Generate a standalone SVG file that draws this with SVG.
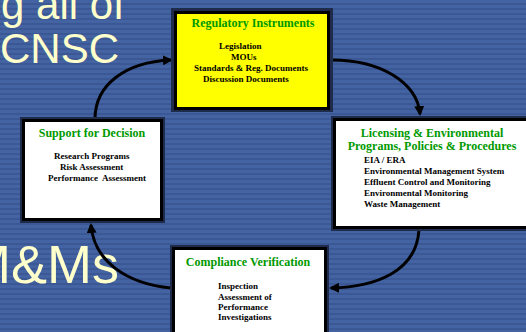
<svg xmlns="http://www.w3.org/2000/svg" width="526" height="332" viewBox="0 0 526 332">
  <defs>
    <pattern id="stripes" width="8" height="5" patternUnits="userSpaceOnUse">
      <rect width="8" height="5" fill="#4463a2"/>
      <rect y="3" width="8" height="2" fill="#3b5895"/>
    </pattern>
    <marker id="head" markerUnits="userSpaceOnUse" markerWidth="11" markerHeight="11" refX="8" refY="5" orient="auto">
      <path d="M0,0 L10,5 L0,10 Z" fill="#000"/>
    </marker>
    <style>
      .slide { font-family: "Liberation Sans", Arial, sans-serif; fill: #ffffcc; }
      .frame { fill: #1f2b4a; }
      .box { stroke: #000; stroke-width: 3; }
      .title { font-family: "Liberation Serif", "Times New Roman", serif; font-weight: bold; font-size: 12px; fill: #009900; }
      .item { font-family: "Liberation Serif", "Times New Roman", serif; font-weight: bold; font-size: 9px; fill: #000; white-space: pre; }
      .arrow { fill: none; stroke: #000; stroke-width: 3; marker-end: url(#head); }
    </style>
  </defs>

  <!-- slide background -->
  <rect width="526" height="332" fill="url(#stripes)"/>

  <!-- slide title fragments behind the cycle -->
  <text class="slide" x="1" y="19" font-size="42">g all of</text>
  <text class="slide" x="0" y="63" font-size="42">CNSC</text>
  <text class="slide" x="-34" y="283" font-size="54">M&amp;Ms</text>

  <!-- connectors -->
  <g id="connectors">
    <path class="arrow" d="M95,119 C95,85 125,62 171,60"/>
    <path class="arrow" d="M332,60 C380,60 417,82 420,114"/>
    <path class="arrow" d="M419,229 C417,272 375,287 331,288"/>
    <path class="arrow" d="M171,288 C128,284 94,262 91,225"/>
  </g>

  <!-- Regulatory Instruments -->
  <g id="regulatory">
    <rect class="frame" x="171" y="8" width="162" height="104"/>
    <rect class="box" x="175.5" y="12.5" width="153" height="96" fill="#ffff00"/>
    <text class="title" x="253" y="27" text-anchor="middle">Regulatory Instruments</text>
    <text class="item" x="219" y="49">Legislation</text>
    <text class="item" x="231" y="60">MOUs</text>
    <text class="item" x="194" y="71">Standards &amp; Reg. Documents</text>
    <text class="item" x="203" y="82">Discussion Documents</text>
  </g>

  <!-- Licensing & Environmental Programs -->
  <g id="licensing">
    <rect class="frame" x="331" y="116" width="200" height="115"/>
    <rect class="box" x="334.5" y="119.5" width="200" height="108" fill="#fff"/>
    <text class="title" x="432" y="137" text-anchor="middle">Licensing &amp; Environmental</text>
    <text class="title" x="432" y="150" text-anchor="middle">Programs, Policies &amp; Procedures</text>
    <text class="item" x="364" y="163">EIA / ERA</text>
    <text class="item" x="364" y="174">Environmental Management System</text>
    <text class="item" x="364" y="185">Effluent Control and Monitoring</text>
    <text class="item" x="364" y="196">Environmental Monitoring</text>
    <text class="item" x="364" y="207">Waste Management</text>
  </g>

  <!-- Support for Decision -->
  <g id="support">
    <rect class="frame" x="20" y="117" width="145" height="106"/>
    <rect class="box" x="23.5" y="120.5" width="138" height="99" fill="#fff"/>
    <text class="title" x="92" y="137" text-anchor="middle">Support for Decision</text>
    <text class="item" x="54" y="159">Research Programs</text>
    <text class="item" x="60" y="170">Risk Assessment</text>
    <text class="item" x="48" y="181">Performance  Assessment</text>
  </g>

  <!-- Compliance Verification -->
  <g id="compliance">
    <rect class="frame" x="170" y="245" width="159" height="95"/>
    <rect class="box" x="173.5" y="248.5" width="152" height="95" fill="#fff"/>
    <text class="title" x="248" y="266" text-anchor="middle">Compliance Verification</text>
    <text class="item" x="218" y="289">Inspection</text>
    <text class="item" x="218" y="300">Assessment of</text>
    <text class="item" x="218" y="310">Performance</text>
    <text class="item" x="218" y="320">Investigations</text>
  </g>
</svg>
